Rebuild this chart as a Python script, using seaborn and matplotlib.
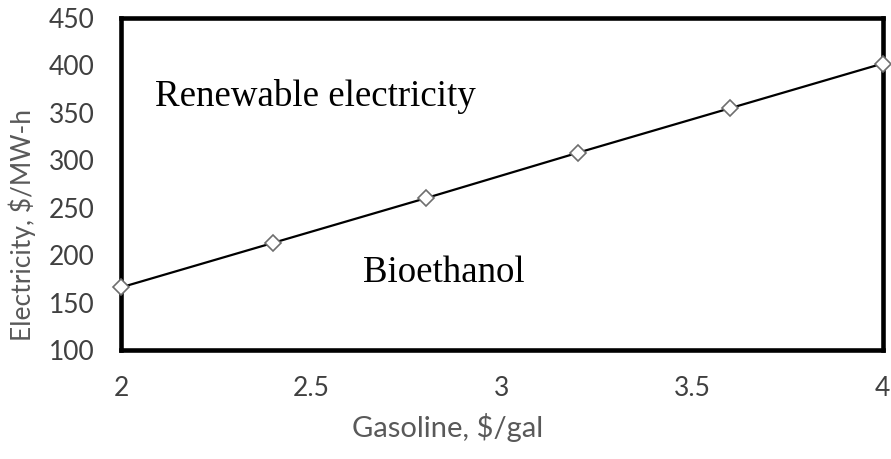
import seaborn as sns
import matplotlib.pyplot as plt
import pandas as pd
import numpy as np

# values
gasoline = [2.0, 2.4, 2.8, 3.2, 3.6, 4.0]
electricity = [166, 213, 260, 308, 355, 402]
x_ticks = [2, 2.5, 3, 3.5, 4]
x_tick_labels = ["2", "2.5", "3", "3.5", "4"]
y_ticks = [100, 150, 200, 250, 300, 350, 400, 450]

sns.set_style("white")
plt.rcParams['font.family'] = ['Lato', 'DejaVu Sans']

fig = plt.figure(figsize=(8.91, 4.59), dpi=100)
ax = fig.add_axes([0.1358, 0.2375, 0.855, 0.7233])

df = pd.DataFrame({"gasoline": gasoline, "electricity": electricity})
sns.lineplot(data=df, x="gasoline", y="electricity", ax=ax, color="black",
             linewidth=1.6, marker="D", markersize=8, markerfacecolor="white",
             markeredgecolor="#6e6e6e", markeredgewidth=1.2, clip_on=False, zorder=5)

ax.set_xlim(2, 4)
ax.set_ylim(100, 450)
ax.set_xticks(x_ticks)
ax.set_xticklabels(x_tick_labels)
ax.set_yticks(y_ticks)

for side in ["left", "right", "top", "bottom"]:
    ax.spines[side].set_visible(True)
    ax.spines[side].set_color("black")
    ax.spines[side].set_linewidth(3.3)

ax.tick_params(axis="both", which="both", direction="out", length=7, width=1,
               color="#8c8c8c", labelsize=19, labelcolor="#404040")
ax.tick_params(axis="x", pad=12)
ax.tick_params(axis="y", pad=12)
ax.grid(False)

ax.set_xlabel("Gasoline, $/gal", fontsize=21, color="#595959")
ax.set_ylabel("Electricity, $/MW-h", fontsize=19, color="#595959")
ax.xaxis.set_label_coords(0.429, -0.19)
ax.yaxis.set_label_coords(-0.112, 0.375)

ax.text(2.09, 367, "Renewable electricity", fontsize=26.6, family="Liberation Serif",
        color="black", va="center", ha="left")
ax.text(2.635, 181, "Bioethanol", fontsize=26.6, family="Liberation Serif",
        color="black", va="center", ha="left")

fig.savefig("out.png", dpi=100)
